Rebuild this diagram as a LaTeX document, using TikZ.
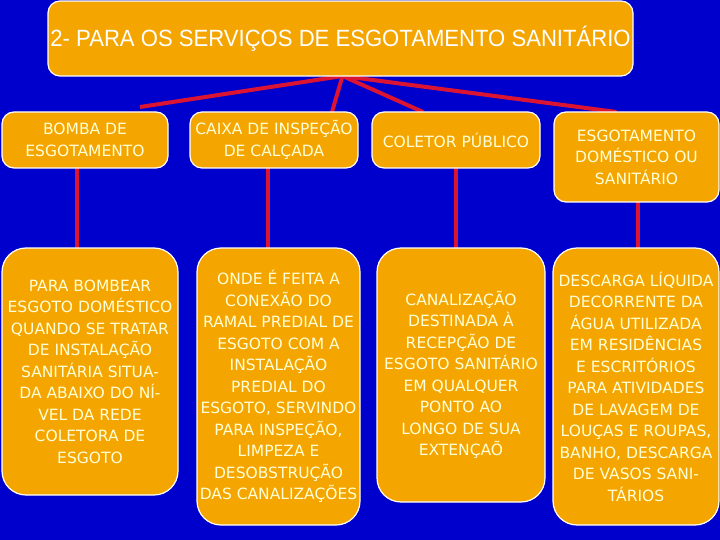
\documentclass[tikz,border=0pt]{standalone}
\usepackage{fontspec}
\setmainfont{DejaVu Sans}
\newfontfamily\titlefont[FakeStretch=0.94]{Liberation Sans}
\pgfdeclarelayer{backlayer}
\pgfdeclarelayer{linklayer}
\pgfsetlayers{backlayer,linklayer,main}
\definecolor{bgblue}{RGB}{0,0,204}
\definecolor{boxorange}{RGB}{245,165,0}
\definecolor{linkred}{RGB}{218,20,50}
\definecolor{txtcream}{RGB}{255,255,215}
\tikzset{
  box/.style={draw=white, line width=1.2pt, fill=boxorange, inner sep=0pt, outer sep=0pt,
    rounded corners=12pt, align=center, text=txtcream,
    font=\fontsize{15.5}{21.5}\selectfont},
  bigbox/.style={box, rounded corners=24pt},
  link/.style={draw=linkred, line width=4pt}
}
\begin{document}
\begin{tikzpicture}[x=1pt,y=-1pt]
\begin{pgfonlayer}{backlayer}
\fill[bgblue] (0,0) rectangle (720,540);
\end{pgfonlayer}
\useasboundingbox (0,0) rectangle (720,540);
\node[box, minimum width=585pt, minimum height=75pt, text=white,
  font=\titlefont\fontsize{23.5}{26}\selectfont] (T) at (340.5,38.5)
  {2- PARA OS SERVIÇOS DE ESGOTAMENTO SANITÁRIO};
\node[box, minimum width=166pt, minimum height=56pt] (A) at (85,140) {BOMBA DE\\ESGOTAMENTO};
\node[box, minimum width=168pt, minimum height=56pt] (B) at (274,140) {CAIXA DE INSPEÇÃO\\DE CALÇADA};
\node[box, minimum width=168pt, minimum height=56pt] (C) at (456,140) {COLETOR PÚBLICO};
\node[box, minimum width=165pt, minimum height=90pt] (D) at (636.5,157) {ESGOTAMENTO\\DOMÉSTICO OU\\SANITÁRIO};
\node[bigbox, minimum width=176pt, minimum height=247pt] (E) at (90,371.5)
  {PARA BOMBEAR\\ESGOTO DOMÉSTICO\\QUANDO SE TRATAR\\DE INSTALAÇÃO\\SANITÁRIA SITUA-\\DA ABAIXO DO NÍ-\\VEL DA REDE\\COLETORA DE\\ESGOTO};
\node[bigbox, minimum width=163pt, minimum height=277pt] (F) at (278.5,386.5)
  {ONDE É FEITA A\\CONEXÃO DO\\RAMAL PREDIAL DE\\ESGOTO COM A\\INSTALAÇÃO\\PREDIAL DO\\ESGOTO, SERVINDO\\PARA INSPEÇÃO,\\LIMPEZA E\\DESOBSTRUÇÃO\\DAS CANALIZAÇÕES};
\node[bigbox, minimum width=168pt, minimum height=254pt] (G) at (461,375)
  {CANALIZAÇÃO\\DESTINADA À\\RECEPÇÃO DE\\ESGOTO SANITÁRIO\\EM QUALQUER\\PONTO AO\\LONGO DE SUA\\EXTENÇAÕ};
\node[bigbox, minimum width=166pt, minimum height=277pt] (H) at (636,386.5)
  {DESCARGA LÍQUIDA\\DECORRENTE DA\\ÁGUA UTILIZADA\\EM RESIDÊNCIAS\\E ESCRITÓRIOS\\PARA ATIVIDADES\\DE LAVAGEM DE\\LOUÇAS E ROUPAS,\\BANHO, DESCARGA\\DE VASOS SANI-\\TÁRIOS};
\coordinate (apex) at ([xshift=2pt]T.south);
\begin{pgfonlayer}{linklayer}
\draw[link] (apex) -- ([xshift=55pt,yshift=5pt]A.north);
\draw[link] (apex) -- ([xshift=58pt]B.north);
\draw[link] (apex) -- ([xshift=-33pt]C.north);
\draw[link] (apex) -- ([xshift=-20pt]D.north);
\draw[link] ([xshift=-8pt]A.south) -- ([xshift=-8pt,yshift=-4pt]A.south |- E.north);
\draw[link] ([xshift=-6pt]B.south) -- ([xshift=-6pt]B.south |- F.north);
\draw[link] (C.south) -- (C.south |- G.north);
\draw[link] ([xshift=1pt]D.south) -- ([xshift=1pt]D.south |- H.north);
\end{pgfonlayer}
\end{tikzpicture}
\end{document}
